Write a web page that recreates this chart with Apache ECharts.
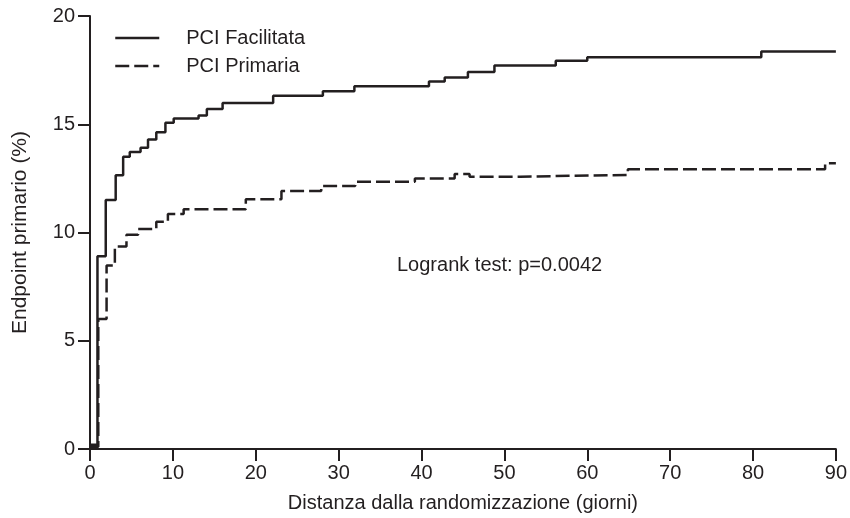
<!DOCTYPE html>
<html>
<head>
<meta charset="utf-8">
<script src="https://cdn.jsdelivr.net/npm/echarts@6/dist/echarts.min.js"></script>
<style>
html,body{margin:0;padding:0;background:#fff;}
#chart{width:850px;height:518px;}
</style>
</head>
<body>
<div id="chart"></div>
<script>
// Series names
const seriesNames = ['PCI Facilitata', 'PCI Primaria'];
// PCI Facilitata: [day, cumulative %] step points
const facilitata = [
  [0, 0.2], [0.9, 8.9], [1.9, 11.5], [3.1, 12.65], [4.0, 13.5], [4.8, 13.72],
  [6.1, 13.92], [7.0, 14.3], [8.0, 14.63], [9.1, 15.07], [10.1, 15.26],
  [13.1, 15.4], [14.1, 15.7], [16.0, 15.98], [22.1, 16.32], [28.1, 16.52],
  [31.9, 16.75], [40.9, 16.97], [42.8, 17.16], [45.6, 17.41], [48.8, 17.71],
  [56.2, 17.93], [60.0, 18.1], [81.0, 18.36], [90, 18.36]
];
// PCI Primaria: [day, cumulative %] step points
const primaria = [
  [0, 0.1], [1.0, 6.0], [2.0, 8.47], [3.0, 9.35], [4.4, 9.9], [5.8, 10.16],
  [8.0, 10.5], [9.4, 10.85], [11.3, 11.07], [18.8, 11.54], [23.1, 11.92],
  [27.9, 12.15], [32.0, 12.34], [39.2, 12.49], [44.0, 12.7], [45.8, 12.58],
  [51.9, 12.66], [64.9, 12.92], [88.7, 13.2], [90, 13.2]
];
const annotation = 'Logrank test: p=0.0042';
const xTitle = 'Distanza dalla randomizzazione (giorni)';
const yTitle = 'Endpoint primario (%)';

const ink = '#231f20';
const font = 'Liberation Sans, Arial, Helvetica, sans-serif';

const chart = echarts.init(document.getElementById('chart'), null, {renderer: 'canvas'});
chart.setOption({
  animation: false,
  backgroundColor: '#fff',
  grid: {left: 90, right: 14, top: 16, bottom: 67, containLabel: false},
  legend: {
    orient: 'vertical',
    left: 114,
    top: 28,
    padding: 0,
    itemWidth: 44,
    itemHeight: 20,
    itemGap: 8,
    data: seriesNames,
    itemStyle: {opacity: 0},
    lineStyle: {width: 2.5},
    textStyle: {color: ink, fontSize: 20, fontFamily: font, padding: [0, 0, 0, 22]}
  },
  xAxis: {
    type: 'value',
    min: 0, max: 90, interval: 10,
    name: xTitle,
    nameLocation: 'middle',
    nameGap: 44,
    nameTextStyle: {color: ink, fontSize: 20, fontFamily: font},
    axisLine: {show: true, onZero: false, lineStyle: {color: ink, width: 2}},
    axisTick: {show: true, length: 12, lineStyle: {color: ink, width: 2}},
    axisLabel: {color: ink, fontSize: 20, fontFamily: font, margin: 14},
    splitLine: {show: false}
  },
  yAxis: {
    type: 'value',
    min: 0, max: 20, interval: 5,
    name: yTitle,
    nameLocation: 'middle',
    nameGap: 59,
    nameRotate: 90,
    nameTextStyle: {color: ink, fontSize: 21, fontFamily: font},
    axisLine: {show: true, lineStyle: {color: ink, width: 2}},
    axisTick: {show: true, length: 12, lineStyle: {color: ink, width: 2}},
    axisLabel: {color: ink, fontSize: 20, fontFamily: font, margin: 15},
    splitLine: {show: false}
  },
  graphic: [{
    type: 'text',
    left: 397,
    top: 255,
    style: {text: annotation, fill: ink, font: '20px ' + font}
  }],
  series: [
    {
      name: seriesNames[0],
      type: 'line',
      step: 'end',
      symbol: 'none',
      data: facilitata,
      color: ink,
      lineStyle: {color: ink, width: 2.5, type: 'solid'}
    },
    {
      name: seriesNames[1],
      type: 'line',
      step: 'end',
      symbol: 'none',
      data: primaria,
      color: ink,
      lineStyle: {color: ink, width: 2.5, type: [14, 5]}
    }
  ]
});
</script>
</body>
</html>
